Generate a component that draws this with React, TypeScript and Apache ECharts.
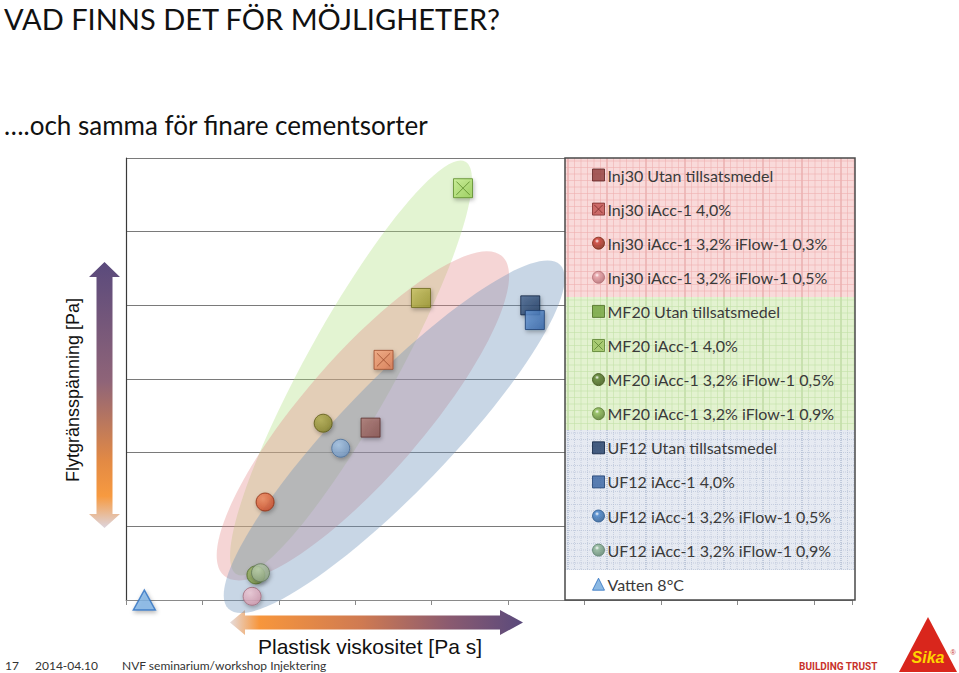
import React, { useEffect, useRef } from "react";
import * as echarts from "echarts";

// ---------- DATA ----------
const seriesNames = [
  "Inj30 Utan tillsatsmedel",
  "Inj30 iAcc-1 4,0%",
  "Inj30 iAcc-1 3,2% iFlow-1 0,3%",
  "Inj30 iAcc-1 3,2% iFlow-1 0,5%",
  "MF20 Utan tillsatsmedel",
  "MF20 iAcc-1 4,0%",
  "MF20 iAcc-1 3,2% iFlow-1 0,5%",
  "MF20 iAcc-1 3,2% iFlow-1 0,9%",
  "UF12 Utan tillsatsmedel",
  "UF12 iAcc-1 4,0%",
  "UF12 iAcc-1 3,2% iFlow-1 0,5%",
  "UF12 iAcc-1 3,2% iFlow-1 0,9%",
  "Vatten 8°C",
];
// Plastisk viskositet (x, relative units)
const viscosity = [3.2, 3.37, 1.82, 1.65, 3.86, 4.41, 2.58, 1.7, 5.29, 5.35, 2.81, 1.76, 0.24];
// Flytgränsspänning (y, relative units)
const yieldStress = [2.34, 3.26, 1.33, 0.05, 4.1, 5.59, 2.4, 0.34, 4.0, 3.8, 2.06, 0.37, 0.0];

// Group ellipses: major-axis end points in data units
const groupNames = ["MF20", "Inj30", "UF12"];
const ellipseStart = [
  [1.45, 0.35],
  [1.28, 0.33],
  [1.34, -0.12],
];
const ellipseEnd = [
  [4.44, 5.95],
  [4.92, 4.67],
  [5.68, 4.55],
];

const xTicksMax = 9.5;
const yTicksMax = 6;

// ---------- STYLES ----------
const ellipseHalfWidth = [45, 60, 55];
const ellipseFill = ["rgba(175,224,126,0.35)", "rgba(226,135,135,0.35)", "rgba(110,146,186,0.38)"];

const markerKind = ["rect", "xrect", "circle", "circle", "rect", "xrect", "circle", "circle", "rect", "rect", "circle", "circle", "triangle"];
// colours as the markers appear in the plot
const plotBase = ["#87504b", "#e07c52", "#cf4d28", "#d39aae", "#9a982e", "#98d054", "#86842a", "#789440", "#1b385f", "#2f62a6", "#7499c4", "#8ea482", "#7fb4e6"];
const plotLight = ["#b07a74", "#f4a880", "#f08a60", "#f2cbd8", "#c8c460", "#c8f090", "#b0ae50", "#a8c070", "#46648e", "#6a9ad8", "#a8c8ea", "#c0d4b4", "#cfe6fb"];
const plotEdge = ["#5a302c", "#9a4a2a", "#8a2a10", "#a06a7a", "#6a681a", "#5a8a28", "#5a5814", "#4e6a26", "#0c2040", "#1c3e70", "#4a6e98", "#62785a", "#2e70c0"];
// colours as the icons appear in the legend
const legendColor = ["#8e3a38", "#c0504d", "#c8372c", "#e4a0a6", "#6fa03a", "#9ac05c", "#547a28", "#8ab854", "#1d3a63", "#3561a0", "#3f7fc8", "#8cb494", "#6fa8dc"];
const legendEdge = ["#5e2220", "#7a2a28", "#7a2410", "#b06a70", "#4a6a20", "#5a8030", "#3a5014", "#56782e", "#0c2040", "#1c3e70", "#2a5a90", "#5a806a", "#2e70c0"];

const XRECT = "path://M0,0L20,0L20,20L0,20Z M3,3L17,17 M17,3L3,17";

function buildPattern(x: number, y: number, w: number, h: number, bg: string, line: string, strong: string, dashed: boolean) {
  const els: any[] = [];
  els.push({ type: "rect", silent: true, z: 10, shape: { x, y, width: w, height: h }, style: { fill: bg } });
  const step = 6.5;
  let k = 0;
  for (let xx = x + 3; xx < x + w; xx += step, k++) {
    els.push({
      type: "line", silent: true, z: 11,
      shape: { x1: xx, y1: y, x2: xx, y2: y + h },
      style: { stroke: k % 6 === 0 ? strong : line, lineWidth: k % 6 === 0 ? 1 : 0.6, lineDash: dashed ? [1, 1] : null },
    });
  }
  k = 0;
  for (let yy = y + 3; yy < y + h; yy += step, k++) {
    els.push({
      type: "line", silent: true, z: 11,
      shape: { x1: x, y1: yy, x2: x + w, y2: yy },
      style: { stroke: line, lineWidth: 0.6, lineDash: dashed ? [1, 1] : null },
    });
  }
  return els;
}

export default function App() {
  const ref = useRef<HTMLDivElement>(null);
  useEffect(() => {
    if (!ref.current) return;
    const chart = echarts.init(ref.current, undefined, { renderer: "svg" });

    const symbolOf = (i: number) => (markerKind[i] === "xrect" ? XRECT : markerKind[i]);

    const scatterSeries = seriesNames.map((name, i) => {
      const kind = markerKind[i];
      let size: any = 19;
      let color: any;
      if (kind === "circle") {
        size = 18;
        color = new echarts.graphic.RadialGradient(0.38, 0.32, 0.7, [
          { offset: 0, color: plotLight[i] },
          { offset: 1, color: plotBase[i] },
        ]);
      } else if (kind === "triangle") {
        size = [22, 20];
        color = plotBase[i];
      } else {
        color = new echarts.graphic.LinearGradient(0, 0, 1, 1, [
          { offset: 0, color: plotLight[i] },
          { offset: 1, color: plotBase[i] },
        ]);
      }
      return {
        type: "scatter",
        name,
        z: 3,
        symbol: symbolOf(i),
        symbolSize: size,
        data: [[viscosity[i], yieldStress[i]]],
        itemStyle: {
          color,
          borderColor: plotEdge[i],
          borderWidth: kind === "triangle" ? 1.5 : 1,
          shadowBlur: 4,
          shadowColor: "rgba(0,0,0,0.35)",
          shadowOffsetX: 1,
          shadowOffsetY: 2,
        },
      };
    });

    const ellipseSeries = {
      type: "custom",
      name: "grupper",
      z: 2,
      silent: true,
      clip: false,
      data: groupNames.map((g, i) => [ellipseStart[i][0], ellipseStart[i][1], ellipseEnd[i][0], ellipseEnd[i][1]]),
      encode: { x: [0, 2], y: [1, 3] },
      renderItem: (params: any, api: any) => {
        const i = params.dataIndex;
        const p1 = api.coord([api.value(0), api.value(1)]);
        const p2 = api.coord([api.value(2), api.value(3)]);
        const cx = (p1[0] + p2[0]) / 2;
        const cy = (p1[1] + p2[1]) / 2;
        const dx = p2[0] - p1[0];
        const dy = p2[1] - p1[1];
        const a = Math.sqrt(dx * dx + dy * dy) / 2;
        const ang = Math.atan2(-dy, dx);
        return {
          type: "ellipse",
          x: cx,
          y: cy,
          rotation: ang,
          shape: { cx: 0, cy: 0, rx: a, ry: ellipseHalfWidth[i] },
          style: { fill: ellipseFill[i], stroke: null },
        };
      },
    };

    const legendData = seriesNames.map((name, i) => {
      const kind = markerKind[i];
      let color: any = legendColor[i];
      if (kind === "circle") {
        color = new echarts.graphic.RadialGradient(0.38, 0.32, 0.7, [
          { offset: 0, color: "#ffffff" },
          { offset: 0.25, color: legendColor[i] },
          { offset: 1, color: legendEdge[i] },
        ]);
      }
      return {
        name,
        icon: symbolOf(i),
        itemStyle: { color, borderColor: legendEdge[i], borderWidth: 1, shadowBlur: 0, shadowOffsetX: 0, shadowOffsetY: 0 },
      };
    });

    const LX = 565, LW = 290;
    const graphics: any[] = [
      ...buildPattern(LX, 158, LW, 139, "#f9dada", "#eeb0b0", "#e39a9a", false),
      ...buildPattern(LX, 297, LW, 133, "#e3f2d0", "#c3e0a8", "#aed08e", false),
      ...buildPattern(LX, 430, LW, 140, "#e6eaf2", "#aebbd2", "#98a8c4", true),
      { type: "rect", silent: true, z: 10, shape: { x: LX, y: 570, width: LW, height: 30 }, style: { fill: "#ffffff" } },
      { type: "rect", silent: true, z: 12, shape: { x: LX, y: 158, width: LW, height: 442 }, style: { fill: null, stroke: "#4a4a4a", lineWidth: 1.5 } },
      // title + subtitle
      { type: "text", x: 4, y: 18, style: { text: "VAD FINNS DET FÖR MÖJLIGHETER?", font: "29px Lato", fill: "#111", verticalAlign: "middle" } },
      { type: "text", x: 4, y: 125, style: { text: "….och samma för finare cementsorter", font: "26px Lato", fill: "#111", verticalAlign: "middle" } },
      // vertical arrow
      {
        type: "polygon", z: 1,
        shape: { points: [[104.5, 262], [120, 277], [112.5, 277], [112.5, 514], [120, 514], [104.5, 528], [89, 514], [96.5, 514], [96.5, 277], [89, 277]] },
        style: {
          fill: new echarts.graphic.LinearGradient(0, 0, 0, 1, [
            { offset: 0, color: "#5a4a7c" },
            { offset: 0.45, color: "#8f6478" },
            { offset: 0.75, color: "#e38a44" },
            { offset: 0.88, color: "#f79a40" },
            { offset: 1, color: "#ddd5de" },
          ]),
        },
      },
      {
        type: "text", x: 73, y: 390, rotation: Math.PI / 2,
        style: { text: "Flytgränsspänning [Pa]", font: "18px 'Liberation Sans'", fill: "#111", align: "center", verticalAlign: "middle" },
      },
      // horizontal arrow
      {
        type: "polygon", z: 1,
        shape: { points: [[230, 622.5], [245, 610], [245, 615.5], [500, 615.5], [500, 610], [523, 622.5], [500, 635], [500, 629.5], [245, 629.5], [245, 635]] },
        style: {
          fill: new echarts.graphic.LinearGradient(0, 0, 1, 0, [
            { offset: 0, color: "#e6dcdc" },
            { offset: 0.1, color: "#f7963c" },
            { offset: 0.45, color: "#cf7a52" },
            { offset: 0.75, color: "#8a5a70" },
            { offset: 1, color: "#5a4a7c" },
          ]),
        },
      },
      {
        type: "text", x: 370, y: 646,
        style: { text: "Plastisk viskositet [Pa s]", font: "21px 'Liberation Sans'", fill: "#111", align: "center", verticalAlign: "middle" },
      },
      // footer
      { type: "text", x: 5, y: 665, style: { text: "17", font: "12px Lato", fill: "#333", verticalAlign: "middle" } },
      { type: "text", x: 35, y: 665, style: { text: "2014-04.10", font: "12px Lato", fill: "#333", verticalAlign: "middle" } },
      { type: "text", x: 122, y: 665, style: { text: "NVF seminarium/workshop Injektering", font: "12px Lato", fill: "#333", verticalAlign: "middle" } },
      { type: "text", x: 799, y: 666, style: { text: "BUILDING TRUST", font: "bold 10px 'Liberation Sans Narrow', Roboto", fill: "#c8332b", verticalAlign: "middle" } },
      { type: "polygon", shape: { points: [[928, 617], [957, 672], [899, 672]] }, style: { fill: "#d9261c" } },
      { type: "text", x: 928, y: 657, style: { text: "Sika", font: "italic bold 16px 'Liberation Sans'", fill: "#ffd400", align: "center", verticalAlign: "middle" } },
      { type: "text", x: 953, y: 652, style: { text: "®", font: "7px 'Liberation Sans'", fill: "#c8332b", align: "center", verticalAlign: "middle" } },
    ];

    const option: any = {
      animation: false,
      backgroundColor: "#ffffff",
      grid: { left: 126, top: 158, width: 726, height: 442, containLabel: false },
      xAxis: {
        type: "value", min: 0, max: xTicksMax, interval: 1,
        axisLine: { show: true, lineStyle: { color: "#8a8a8a", width: 1 } },
        axisTick: { show: true, length: 5, lineStyle: { color: "#8a8a8a" } },
        axisLabel: { show: false },
        splitLine: { show: false },
      },
      yAxis: {
        type: "value", min: 0, max: yTicksMax, interval: 1,
        axisLine: { show: true, lineStyle: { color: "#3a3a3a", width: 1.2 } },
        axisTick: { show: false },
        axisLabel: { show: false },
        splitLine: { show: true, lineStyle: { color: "#7a7a7a", width: 1 } },
      },
      legend: {
        data: legendData,
        orient: "vertical",
        left: 592,
        top: 165,
        padding: 0,
        itemWidth: 12,
        itemHeight: 12,
        itemGap: 14.1,
        selectedMode: false,
        z: 20,
        textStyle: { fontFamily: "Lato", fontSize: 16, color: "#3a3a3a", lineHeight: 20, padding: [0, 0, 0, -2] },
      },
      graphic: graphics,
      series: [ellipseSeries, ...scatterSeries],
    };
    chart.setOption(option);
    return () => chart.dispose();
  }, []);
  return <div ref={ref} style={{ position: "fixed", left: 0, top: 0, width: 959, height: 673, background: "#fff" }} />;
}
